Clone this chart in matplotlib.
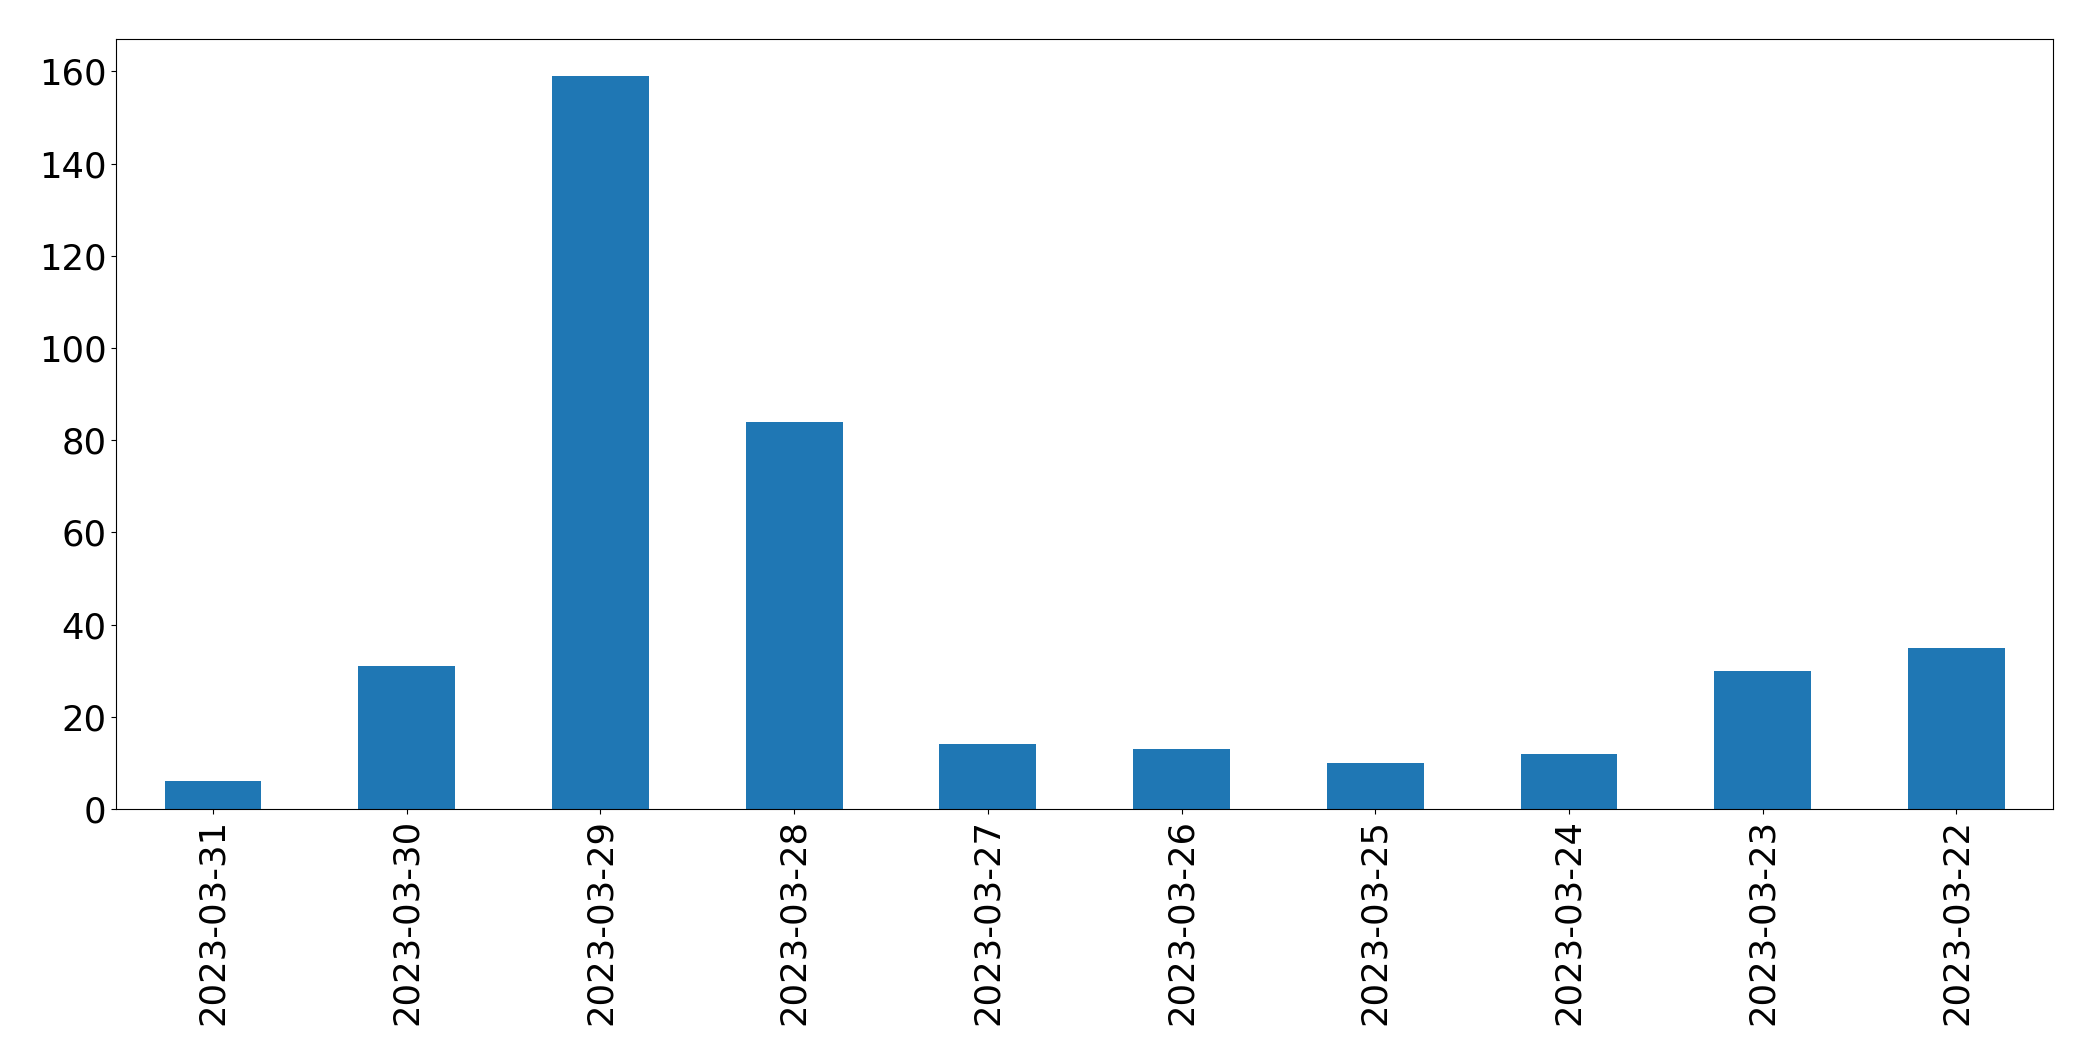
import matplotlib
matplotlib.use("Agg")
import matplotlib.pyplot as plt
import numpy as np

dates = ["2023-03-31", "2023-03-30", "2023-03-29", "2023-03-28", "2023-03-27",
         "2023-03-26", "2023-03-25", "2023-03-24", "2023-03-23", "2023-03-22"]
counts = [6, 31, 159, 84, 14, 13, 10, 12, 30, 35]

fig = plt.figure(figsize=(20.93, 10.61), dpi=100)
ax = fig.add_axes([0.0555, 0.2375, 0.9255, 0.7255])

x = np.arange(len(dates))
ax.bar(x, counts, width=0.5, color="#1f77b4")
ax.set_xlim(-0.5, len(dates) - 0.5)
ax.set_ylim(0, max(counts) * 1.05)
ax.set_xticks(x)
ax.set_xticklabels(dates, rotation=90)
ax.tick_params(axis="both", labelsize=25.5)

fig.savefig("out.png", dpi=100)
